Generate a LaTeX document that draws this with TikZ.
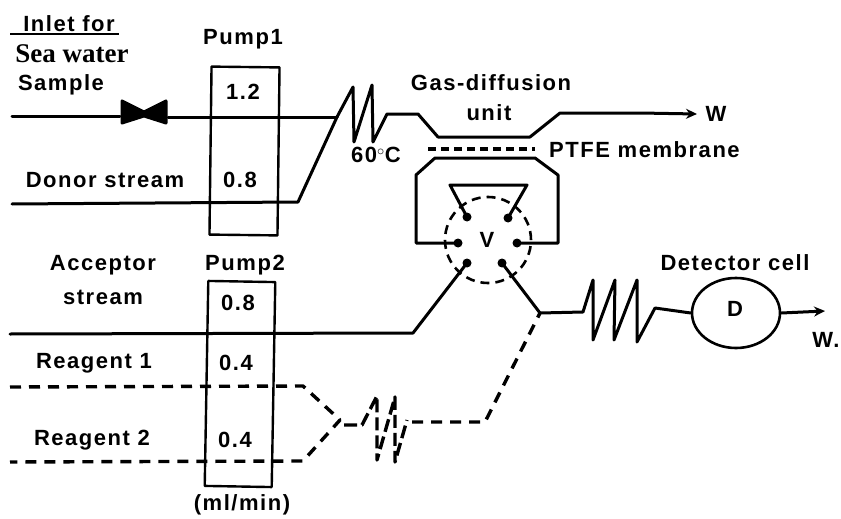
\documentclass[tikz,border=0pt]{standalone}
\usepackage{fontspec}
\setmainfont[LetterSpace=7]{Liberation Sans}
\newfontfamily\serifface{Liberation Serif}
\usetikzlibrary{arrows.meta,shapes.geometric}
\tikzset{
  pipe/.style={line width=3pt,line join=round,line cap=round},
  dashpipe/.style={line width=3.4pt,line join=round,line cap=butt,dash pattern=on 11pt off 8pt},
  boxpipe/.style={line width=2.4pt,line join=round},
  flow/.style={pipe,-{Stealth[length=11pt,width=10pt]}},
  lab/.style={font=\bfseries\fontsize{22}{24}\selectfont,inner sep=0pt},
  port/.style={circle,fill=black,inner sep=0pt,minimum size=9pt},
}
\begin{document}
\begin{tikzpicture}[x=1pt,y=-1pt]
\useasboundingbox (0,0) rectangle (841,519);
% text
\node[lab] (t1) at (69,24) {Inlet for};
\draw[line width=1.5pt] (10,34) -- (119,34);
\node[inner sep=0pt,font=\serifface\bfseries\fontsize{27}{29}\selectfont] (t2) at (72,54) {Sea water};
\node[lab] (t3) at (61,85) {Sample};
\node[lab] (t4) at (105,180) {Donor stream};
\node[lab] (t5) at (243,39) {Pump1};
\node[lab] (t6) at (103,265) {Acceptor};
\node[lab] (t7) at (103,297) {stream};
\node[lab] (t8) at (94,363) {Reagent 1};
\node[lab] (t9) at (92,440) {Reagent 2};
\node[lab] (t10) at (245,265) {Pump2};
\node[lab] (t11) at (242,505) {(ml/min)};
\node[lab] (t12) at (491,83) {Gas-diffusion};
\node[lab] (t13) at (489,113) {unit};
\node[lab,anchor=west] (t14) at (549,150) {PTFE membrane};
\node[lab] (t15) at (376,155) {60$^{\circ}$C};
\node[lab] (t16) at (735,263) {Detector cell};
% pumps
\node[draw,boxpipe,rotate=-0.7,minimum width=68pt,minimum height=168pt,inner sep=0pt] (pumpa) at (244.5,151) {};
\node[draw,boxpipe,rotate=-1,minimum width=67pt,minimum height=205pt,inner sep=0pt] (pumpb) at (240,384) {};
\node[lab] (r1) at (243,92) {1.2};
\node[lab] (r2) at (240,180) {0.8};
\node[lab] (r3) at (238,303) {0.8};
\node[lab] (r4) at (236,363) {0.4};
\node[lab] (r5) at (235,440) {0.4};
% sample valve
\coordinate (sa) at (12,116);
\coordinate (va) at (120,116);
\coordinate (vb) at (168,117);
\fill[black,line join=round,draw=black,line width=3pt] (122,101) -- (144,112) -- (166,101) -- (166,123) -- (144,116) -- (122,123) -- cycle;
\draw[pipe] (sa) -- (va);
\coordinate (cin) at (337,117);
\draw[pipe] (vb) -- (cin);
\draw[flow] (cin) -- (353,87) -- (354,142) -- (372,85) -- (373,142) -- (387,114) -- (418,114) -- (438,137) -- (530,137) -- (560,113) -- (640,113) -- (697,114);
\node[lab] (w1) at (716,114) {W};
\draw[pipe] (12,204) -- (298,202) -- (cin);
\draw[dashpipe,dash pattern=on 8pt off 5pt] (428,149) -- (535,149);
% injection valve
\node[draw=black,line width=2.6pt,dash pattern=on 9pt off 6pt,circle,minimum size=86pt,inner sep=0pt] (valve) at (488,240) {};
\node[lab] (vt) at (487,240) {V};
\node[port] (p1) at (458,243) {};
\node[port] (p2) at (517,243) {};
\node[port] (p3) at (467,217) {};
\node[port] (p4) at (508,218) {};
\node[port] (p5) at (467,263) {};
\node[port] (p6) at (502,263) {};
\draw[pipe] (p1.center) -- (416,243) -- (416,175) -- (435,158) -- (535,158) -- (558,175) -- (558,243) -- (p2.center);
\draw[pipe] (p3.center) -- (450,185) -- (527,185) -- (p4.center);
\draw[pipe] (10,334) -- (413,333) -- (p5.center);
\coordinate (junc) at (540,313);
\node[draw,line width=2.6pt,ellipse,minimum width=88pt,minimum height=70pt,inner sep=0pt] (det) at (736,313) {};
\node[lab] (dt) at (735,309) {D};
\draw[pipe] (p6.center) -- (junc) -- (583,312) -- (593,280) -- (593,340) -- (615,280) -- (614,340) -- (637,280) -- (637,342) -- (655,308) -- (det.180);
\draw[flow] (det.0) -- (825,311);
\node[lab] (w2) at (826,340) {W.};
% reagents
\draw[dashpipe] (10,387) -- (303,386) -- (340,420) -- (303,461) -- (10,462);
\draw[dashpipe,dash pattern=on 13pt off 5pt] (344,425) -- (362,425) -- (377,396) -- (377,460) -- (395,397) -- (395,462) -- (407,420);
\draw[dashpipe] (412,422) -- (485,422) -- (junc);
\end{tikzpicture}
\end{document}
